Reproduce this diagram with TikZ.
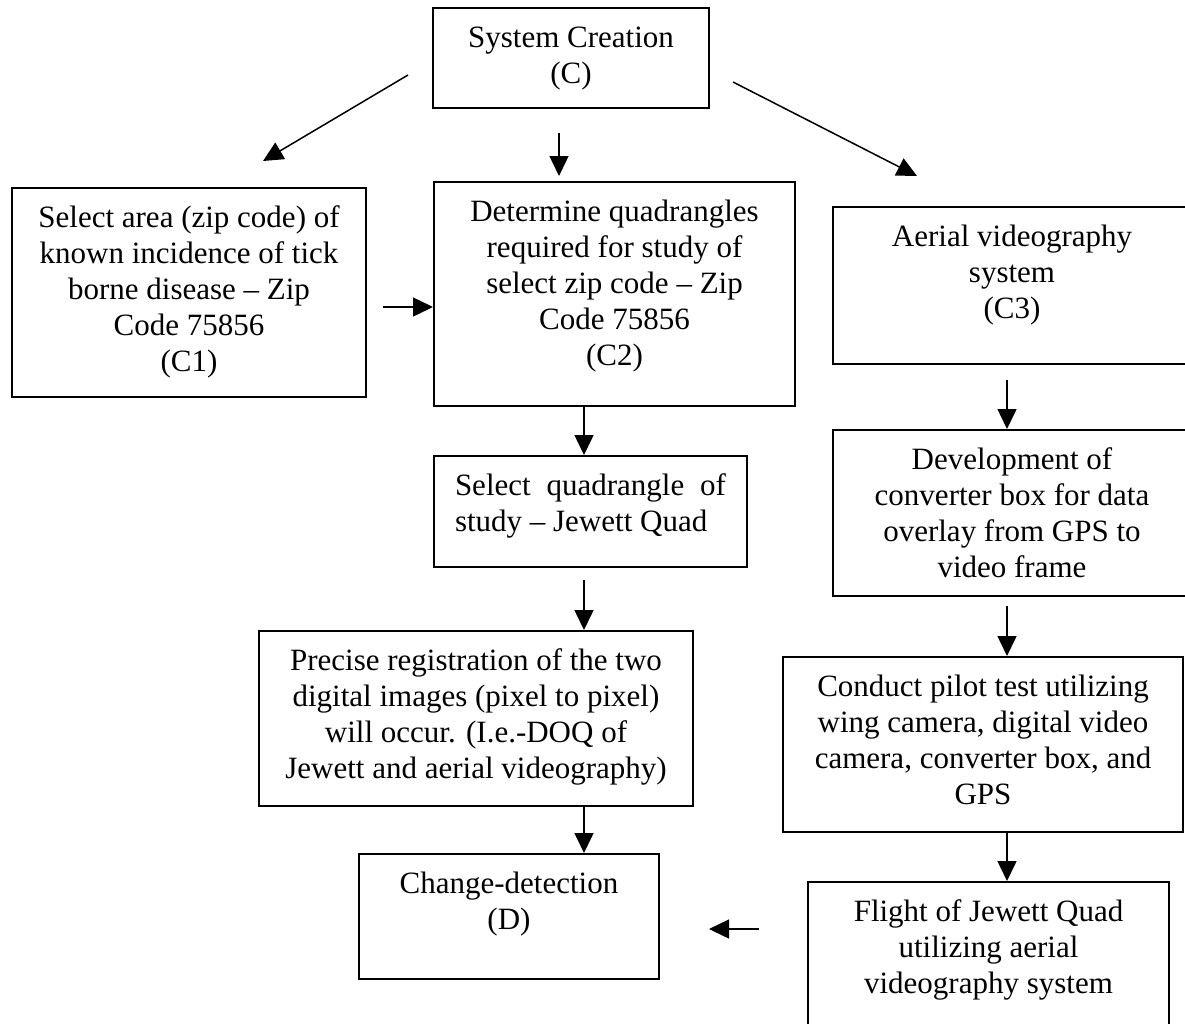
\documentclass[tikz,border=0pt]{standalone}
\usepackage{fontspec}
\setmainfont{Liberation Serif}
\usetikzlibrary{arrows.meta}
\tikzset{
  box/.style={draw, line width=2pt, inner sep=0pt, rectangle},
  txt/.style={anchor=north, inner sep=0pt, align=center, font=\fontsize{31}{36}\selectfont},
  arr/.style={line width=1.5pt, -{Triangle[length=20pt, width=19pt]}}
}
\begin{document}
\begin{tikzpicture}[x=1pt, y=-1pt]
\useasboundingbox (0,0) rectangle (1185,1023);
\clip (0,0) rectangle (1185,1023);

% boxes
\node[box, minimum width=276pt, minimum height=100pt] (sys)  at (571,58) {};
\node[box, minimum width=354pt, minimum height=209pt] (c1)   at (189,292.5) {};
\node[box, minimum width=361pt, minimum height=224pt] (det)  at (614.5,294) {};
\node[box, minimum width=358pt, minimum height=157pt] (aer)  at (1012,285.5) {};
\node[box, minimum width=358pt, minimum height=166pt] (dev)  at (1012,513) {};
\node[box, minimum width=313pt, minimum height=111pt] (selq) at (590.5,511.5) {};
\node[box, minimum width=434pt, minimum height=175pt] (prec) at (476,718.5) {};
\node[box, minimum width=400pt, minimum height=175pt] (cond) at (983,744.5) {};
\node[box, minimum width=300pt, minimum height=125pt] (chg)  at (509,916.5) {};
\node[box, minimum width=361pt, minimum height=160pt] (fli)  at (988.5,962) {};

% texts
\node[txt] (sys-t)  at ([yshift=-15pt]sys.north)  {\strut System Creation\\(C)};
\node[txt] (c1-t)   at ([yshift=-15pt]c1.north)   {\strut Select area (zip code) of\\known incidence of tick\\borne disease – Zip\\Code 75856\\(C1)};
\node[txt] (det-t)  at ([yshift=-15pt]det.north)  {\strut Determine quadrangles\\required for study of\\select zip code – Zip\\Code 75856\\(C2)};
\node[txt] (aer-t)  at ([yshift=-15pt]aer.north)  {\strut Aerial videography\\system\\(C3)};
\node[txt] (dev-t)  at ([yshift=-15pt]dev.north)  {\strut Development of\\converter box for data\\overlay from GPS to\\video frame};
\node[txt, align=justify, text width=271pt] (selq-t) at ([yshift=-15pt]selq.north) {\strut Select quadrangle of\linebreak study – Jewett Quad};
\node[txt] (prec-t) at ([yshift=-15pt]prec.north) {\strut Precise registration of the two\\digital images (pixel to pixel)\\will occur. (I.e.-DOQ of\\Jewett and aerial videography)};
\node[txt] (cond-t) at ([yshift=-15pt]cond.north) {\strut Conduct pilot test utilizing\\wing camera, digital video\\camera, converter box, and\\GPS};
\node[txt] (chg-t)  at ([yshift=-15pt]chg.north)  {\strut Change-detection\\(D)};
\node[txt] (fli-t)  at ([yshift=-15pt]fli.north)  {\strut Flight of Jewett Quad\\utilizing aerial\\videography system};

% arrow end points
\coordinate (l1) at (408,75);
\coordinate (l2) at (263,161);
\coordinate (m1) at (559,133);
\coordinate (m2) at (559,176);
\coordinate (r1) at (733,82);
\coordinate (r2) at (917,176);
\coordinate (h1) at (383,307);
\coordinate (colA) at (584,0);
\coordinate (sq1) at (584,580);
\coordinate (colB) at (1007,0);
\coordinate (ae1) at (1007,380);
\coordinate (de1) at (1007,606);
\coordinate (f1) at (759,929);
\coordinate (f2) at (709,929);

% arrows
\draw[arr] (l1) -- (l2);
\draw[arr] (m1) -- (m2);
\draw[arr] (r1) -- (r2);
\draw[arr] (h1) -- (h1 -| det.west);
\draw[arr] (det.south -| colA) -- (selq.north -| colA);
\draw[arr] (sq1) -- (prec.north -| colA);
\draw[arr] (prec.south -| colA) -- (chg.north -| colA);
\draw[arr] (ae1) -- (dev.north -| colB);
\draw[arr] (de1) -- (cond.north -| colB);
\draw[arr] (cond.south -| colB) -- (fli.north -| colB);
\draw[arr] (f1) -- (f2);
\end{tikzpicture}
\end{document}
